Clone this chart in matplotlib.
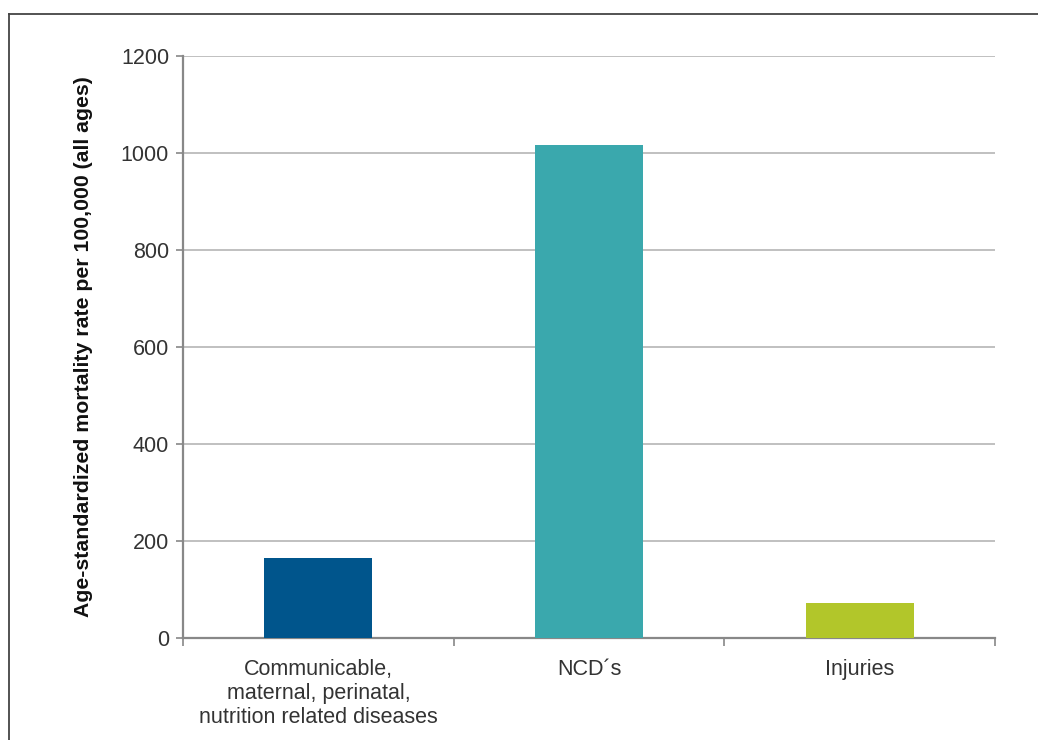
import matplotlib
matplotlib.use("Agg")
import matplotlib.pyplot as plt
from matplotlib.lines import Line2D

categories = ["Communicable,\nmaternal, perinatal,\nnutrition related diseases", "NCD\u00b4s", "Injuries"]
values = [165, 1016, 72]
colors = ["#00558C", "#3AA8AD", "#B2C62A"]

plt.rcParams['font.family'] = ['Liberation Sans', 'DejaVu Sans']

fig = plt.figure(figsize=(10.38, 7.40), dpi=100)
ax = fig.add_axes([183 / 1038, 102 / 740, 812 / 1038, 582 / 740])

x = list(range(len(categories)))
ax.bar(x, values, width=0.4, color=colors, zorder=3)

ax.set_xlim(-0.5, len(categories) - 0.5)
ax.set_ylim(0, 1200)
ax.set_yticks(range(0, 1201, 200))
ax.tick_params(axis='y', labelsize=15.5, labelcolor='#333333', color='#888888', length=5, width=1.2, pad=5)
ax.grid(axis='y', color='#b5b5b5', linewidth=1.2, zorder=0)

ax.set_xticks(x)
ax.set_xticklabels(categories)
ax.tick_params(axis='x', which='major', length=0, labelsize=15.5, labelcolor='#333333', pad=15)
ax.set_xticks([i - 0.5 for i in range(len(categories) + 1)], minor=True)
ax.tick_params(axis='x', which='minor', length=6, color='#888888', width=1.2)

for s in ['top', 'right']:
    ax.spines[s].set_visible(False)
for s in ['left', 'bottom']:
    ax.spines[s].set_color('#888888')
    ax.spines[s].set_linewidth(1.6)

ax.set_ylabel("Age-standardized mortality rate per 100,000 (all ages)",
              fontsize=15.3, fontweight='bold', color='#111111', labelpad=20)

# frame around the figure (top and left edges)
fig.add_artist(Line2D([8.5 / 1038, 1], [(740 - 13.5) / 740] * 2, color='#444444', lw=1.3))
fig.add_artist(Line2D([8.5 / 1038] * 2, [0, (740 - 13.5) / 740], color='#444444', lw=1.3))

fig.savefig("out.png", dpi=100)
